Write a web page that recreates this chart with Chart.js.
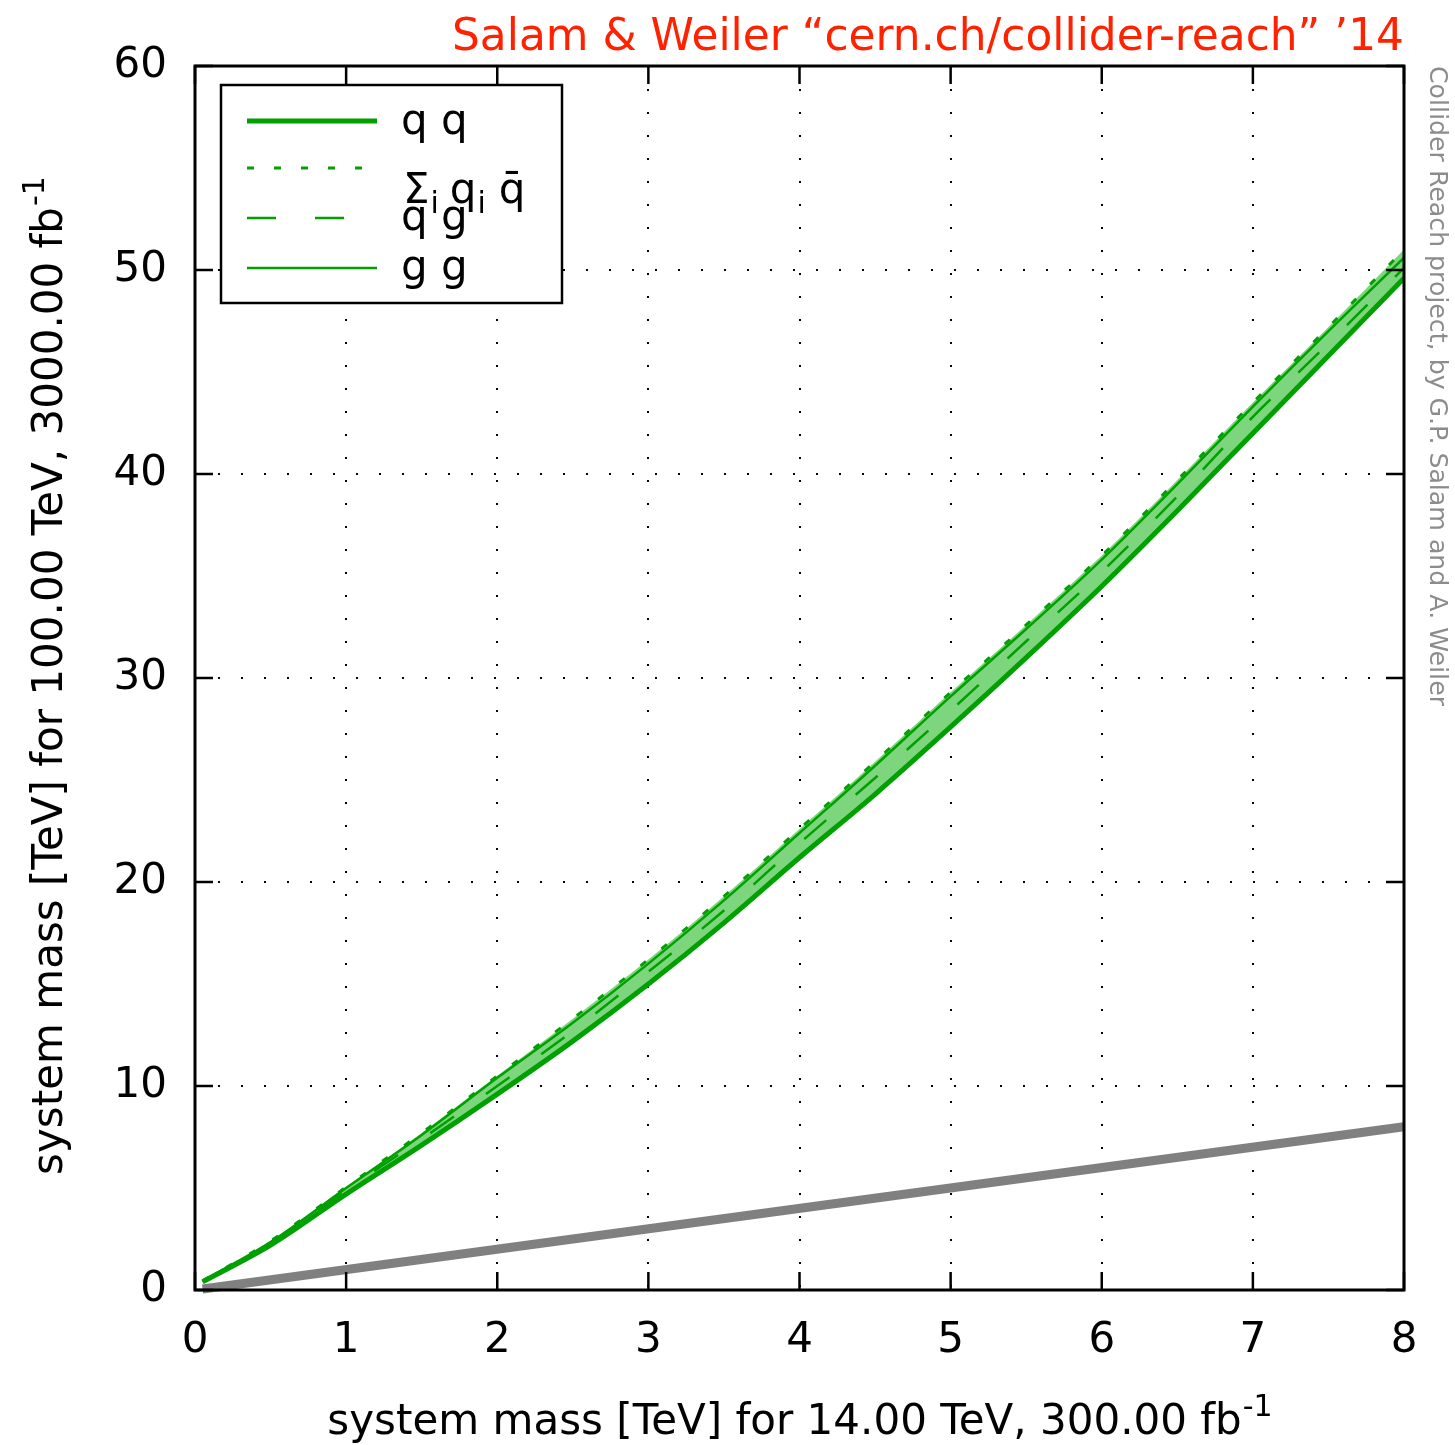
<!DOCTYPE html>
<html>
<head>
<meta charset="utf-8">
<script src="https://cdn.jsdelivr.net/npm/chart.js@4.4.1/dist/chart.umd.min.js"></script>
<style>
html,body{margin:0;padding:0;background:#fff;}
#wrap{position:relative;width:1455px;height:1445px;}
</style>
</head>
<body>
<div id="wrap"><canvas id="c" width="1455" height="1445"></canvas></div>
<script>
// ---- data ----
const massX = [0.05, 0.5, 1, 1.5, 2, 2.5, 3, 3.5, 4, 4.5, 5, 5.5, 6, 6.5, 7, 7.5, 8];
const qqReach   = [0.40, 2.20, 4.70, 7.10, 9.60, 12.2, 15.0, 18.0, 21.2, 24.3, 27.6, 31.0, 34.5, 38.2, 42.0, 45.8, 49.6];
const qqbarReach= [0.45, 2.40, 5.05, 7.70, 10.5, 13.3, 16.2, 19.3, 22.6, 25.9, 29.3, 32.6, 36.0, 39.7, 43.5, 47.2, 51.0];
const qgReach   = [0.43, 2.30, 4.90, 7.40, 10.0, 12.7, 15.6, 18.6, 21.9, 25.1, 28.4, 31.8, 35.2, 38.9, 42.8, 46.4, 50.1];
const ggReach   = [0.45, 2.35, 5.00, 7.60, 10.4, 13.1, 16.0, 19.1, 22.4, 25.7, 29.1, 32.4, 35.8, 39.5, 43.3, 47.0, 50.6];
const diagX = [0.05, 8];
const diagY = [0.05, 8];
const seriesLabels = ['q q', 'Σi qi q̄', 'q g', 'g g'];
const xTicks = [0, 1, 2, 3, 4, 5, 6, 7, 8];
const yTicks = [0, 10, 20, 30, 40, 50, 60];
const titleText = 'Salam & Weiler “cern.ch/collider-reach” \u201914';
const xTitle = 'system mass [TeV] for 14.00 TeV, 300.00 fb';
const yTitle = 'system mass [TeV] for 100.00 TeV, 3000.00 fb';
const sideText = 'Collider Reach project, by G.P. Salam and A. Weiler';

const GREEN = '#00a000';
const FILL = '#7dd67d';
const FONT = '"DejaVu Sans", sans-serif';

const pts = (xs, ys) => xs.map((x, i) => ({x: x, y: ys[i]}));

const decor = {
  id: 'decor',
  afterDraw(chart) {
    const ctx = chart.ctx, a = chart.chartArea;
    const xs = chart.scales.x, ys = chart.scales.y;
    ctx.save();
    // border
    ctx.strokeStyle = '#000'; ctx.lineWidth = 3; ctx.setLineDash([]);
    ctx.strokeRect(a.left, a.top, a.right - a.left, a.bottom - a.top);
    // inward ticks
    ctx.lineWidth = 2.5;
    const TL = 18;
    ctx.beginPath();
    xTicks.forEach(v => {
      const px = xs.getPixelForValue(v);
      ctx.moveTo(px, a.bottom); ctx.lineTo(px, a.bottom - TL);
      ctx.moveTo(px, a.top); ctx.lineTo(px, a.top + TL);
    });
    yTicks.forEach(v => {
      const py = ys.getPixelForValue(v);
      ctx.moveTo(a.left, py); ctx.lineTo(a.left + TL, py);
      ctx.moveTo(a.right, py); ctx.lineTo(a.right - TL, py);
    });
    ctx.stroke();

    // legend box
    const lx = 221, ly = 85, lw = 341, lh = 218;
    ctx.fillStyle = '#fff';
    ctx.fillRect(lx, ly, lw, lh);
    ctx.lineWidth = 2.5; ctx.strokeStyle = '#000';
    ctx.strokeRect(lx, ly, lw, lh);
    const sample = (y, w, dash) => {
      ctx.beginPath(); ctx.strokeStyle = GREEN; ctx.lineWidth = w; ctx.setLineDash(dash);
      ctx.moveTo(247, y); ctx.lineTo(377, y); ctx.stroke();
    };
    sample(121, 5, []);
    sample(168, 3, [7, 20]);
    sample(218, 2.5, [29, 39]);
    sample(268, 2.5, []);
    ctx.setLineDash([]);
    ctx.fillStyle = '#000';
    ctx.textBaseline = 'middle'; ctx.textAlign = 'left';
    ctx.font = '42px ' + FONT;
    ctx.fillText(seriesLabels[0], 401, 123);
    ctx.fillText(seriesLabels[2], 401, 219);
    ctx.fillText(seriesLabels[3], 401, 269);
    // Σi qi q̄ with subscripts
    let x = 403; const yb = 192;
    ctx.font = '42px ' + FONT;
    ctx.fillText('Σ', x, yb); x += ctx.measureText('Σ').width + 1;
    ctx.font = '30px ' + FONT;
    ctx.fillText('i', x, yb + 13); x += ctx.measureText('i').width + 11;
    ctx.font = '42px ' + FONT;
    ctx.fillText('q', x, yb); x += ctx.measureText('q').width + 1;
    ctx.font = '30px ' + FONT;
    ctx.fillText('i', x, yb + 13); x += ctx.measureText('i').width + 13;
    ctx.font = '42px ' + FONT;
    ctx.fillText('q\u0304', x, yb);

    // axis titles
    ctx.fillStyle = '#000';
    ctx.textAlign = 'left'; ctx.textBaseline = 'alphabetic';
    const sup = '-1';
    ctx.font = '42px ' + FONT;
    const wx = ctx.measureText(xTitle).width;
    ctx.font = '30px ' + FONT;
    const wsx = ctx.measureText(sup).width;
    let x0 = (a.left + a.right) / 2 - (wx + wsx) / 2 + 0;
    ctx.font = '42px ' + FONT;
    ctx.fillText(xTitle, x0, 1434);
    ctx.font = '30px ' + FONT;
    ctx.fillText(sup, x0 + wx + 1, 1416);

    ctx.save();
    ctx.translate(62, (a.top + a.bottom) / 2);
    ctx.rotate(-Math.PI / 2);
    ctx.font = '42px ' + FONT;
    const wy = ctx.measureText(yTitle).width;
    let y0 = -(wy + wsx) / 2 + 2;
    ctx.fillText(yTitle, y0, 0);
    ctx.font = '30px ' + FONT;
    ctx.fillText(sup, y0 + wy + 1, -18);
    ctx.restore();

    // top title in red, right-aligned
    ctx.fillStyle = '#ff2200';
    ctx.font = '44px ' + FONT;
    const tw = ctx.measureText(titleText).width;
    const target = 952;
    ctx.save();
    ctx.translate(1404, 50);
    ctx.scale(target / tw, 1);
    ctx.textAlign = 'right';
    ctx.fillText(titleText, 0, 0);
    ctx.restore();

    // side text
    ctx.save();
    ctx.fillStyle = '#8c8c8c';
    ctx.font = '25px ' + FONT;
    const sw = ctx.measureText(sideText).width;
    ctx.translate(1427, 66);
    ctx.rotate(Math.PI / 2);
    ctx.scale(640 / sw, 1);
    ctx.textAlign = 'left'; ctx.textBaseline = 'middle';
    ctx.fillText(sideText, 0, -9);
    ctx.restore();
    ctx.restore();
  }
};

new Chart(document.getElementById('c'), {
  type: 'line',
  data: {
    datasets: [
      { label: seriesLabels[0], data: pts(massX, qqReach), borderColor: GREEN, borderWidth: 5, pointRadius: 0, fill: false, cubicInterpolationMode: 'monotone' },
      { label: seriesLabels[1], data: pts(massX, qqbarReach), borderColor: GREEN, borderWidth: 3, borderDash: [7, 20], pointRadius: 0,
        fill: { target: 0, above: FILL, below: FILL }, backgroundColor: FILL, cubicInterpolationMode: 'monotone' },
      { label: seriesLabels[2], data: pts(massX, qgReach), borderColor: GREEN, borderWidth: 2.5, borderDash: [29, 39], pointRadius: 0, fill: false, cubicInterpolationMode: 'monotone' },
      { label: seriesLabels[3], data: pts(massX, ggReach), borderColor: GREEN, borderWidth: 2.5, pointRadius: 0, fill: false, cubicInterpolationMode: 'monotone' },
      { label: 'diag', data: pts(diagX, diagY), borderColor: '#808080', borderWidth: 9, pointRadius: 0, fill: false, clip: 8, borderCapStyle: 'butt' }
    ]
  },
  options: {
    responsive: false,
    animation: false,
    events: [],
    layout: { padding: { left: 0, right: 51, top: 66, bottom: 0 } },
    plugins: {
      legend: { display: false },
      tooltip: { enabled: false },
      filler: { drawTime: 'beforeDatasetsDraw' }
    },
    scales: {
      x: {
        type: 'linear', min: 0, max: 8,
        afterFit(s) { s.height = 155; },
        afterBuildTicks(s) { s.ticks = xTicks.map(v => ({value: v})); },
        ticks: { color: '#000', font: { family: FONT, size: 42 }, padding: 26, maxRotation: 0 },
        grid: { color: '#000', lineWidth: 2, drawTicks: false },
        border: { display: false, dash: [2, 21] }
      },
      y: {
        type: 'linear', min: 0, max: 60,
        afterFit(s) { s.width = 195; },
        afterBuildTicks(s) { s.ticks = yTicks.map(v => ({value: v})); },
        ticks: { color: '#000', font: { family: FONT, size: 42 }, padding: 28 },
        grid: { color: '#000', lineWidth: 2, drawTicks: false },
        border: { display: false, dash: [2, 21] }
      }
    }
  },
  plugins: [decor]
});
</script>
</body>
</html>
